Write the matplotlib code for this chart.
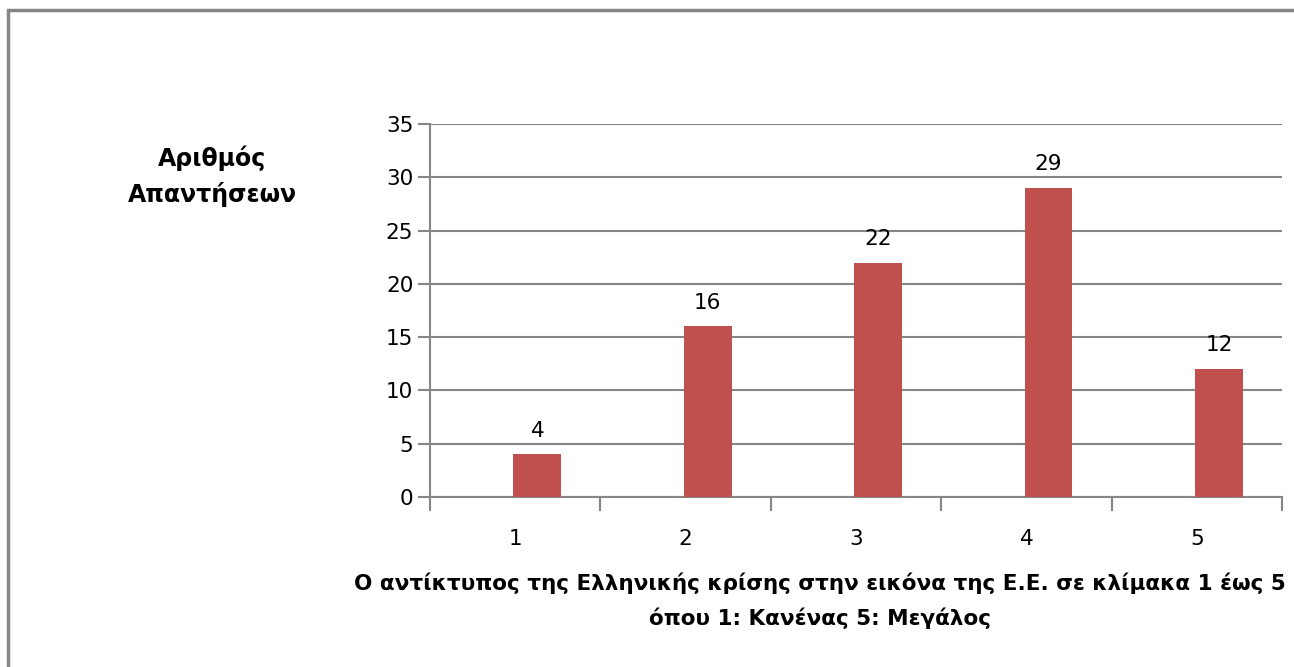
import numpy as np
import matplotlib.pyplot as plt
from matplotlib.patches import Rectangle

RED = '#C0504D'
GRID = '#868686'

plt.rcParams['font.family'] = ['DejaVu Sans']

categories = ['1', '2', '3', '4', '5']
answers = [4, 16, 22, 29, 12]

fig = plt.figure(figsize=(12.94, 6.67), dpi=100)
ax = fig.add_axes([430 / 1294, 1 - 497 / 667, 852 / 1294, 373 / 667])

# chart border (only left and top fall inside the picture)
fig.patches.append(Rectangle((8 / 1294, -0.1), 1.2, 1 - 10 / 667 + 0.1,
                             transform=fig.transFigure, fill=False,
                             edgecolor=GRID, linewidth=2.5))

index = np.arange(len(categories))
bar_width = 0.28
# second series of an excel cluster (the first one is empty)
bars = ax.bar(index + 0.13, answers, bar_width, color=RED, zorder=3)
for b, v in zip(bars, answers):
    ax.text(b.get_x() + b.get_width() / 2, v + 1.3, str(v),
            ha='center', va='bottom', fontsize=15.5)

ax.set_xlim(-0.5, len(categories) - 0.5)
ax.set_ylim(0, 35)
ax.set_yticks(range(0, 36, 5))
ax.set_xticks(index)
ax.set_xticklabels(categories)
ax.set_xticks(np.arange(-0.5, len(categories)), minor=True)
ax.tick_params(axis='x', which='major', length=0, pad=23, labelsize=15.5)
ax.tick_params(axis='x', which='minor', length=10, width=1.5, color=GRID)
ax.tick_params(axis='y', length=9, width=1.5, color=GRID, labelsize=15.5, pad=3)
ax.yaxis.grid(True, color=GRID, linewidth=1.5, zorder=0)

for side in ['top', 'right']:
    ax.spines[side].set_visible(False)
for side in ['left', 'bottom']:
    ax.spines[side].set_color(GRID)
    ax.spines[side].set_linewidth(1.5)

fig.text(212 / 1294, 1 - 176 / 667, 'Αριθμός\nΑπαντήσεων', ha='center',
         va='center', fontsize=17, fontweight='bold', linespacing=1.55)
fig.text(820 / 1294, 1 - 601 / 667,
         'Ο αντίκτυπος της Ελληνικής κρίσης στην εικόνα της Ε.Ε. σε κλίμακα 1 έως 5\nόπου 1: Κανένας 5: Μεγάλος',
         ha='center', va='center', fontsize=15.5, fontweight='bold', linespacing=1.75)

fig.savefig('out.png', dpi=100)
